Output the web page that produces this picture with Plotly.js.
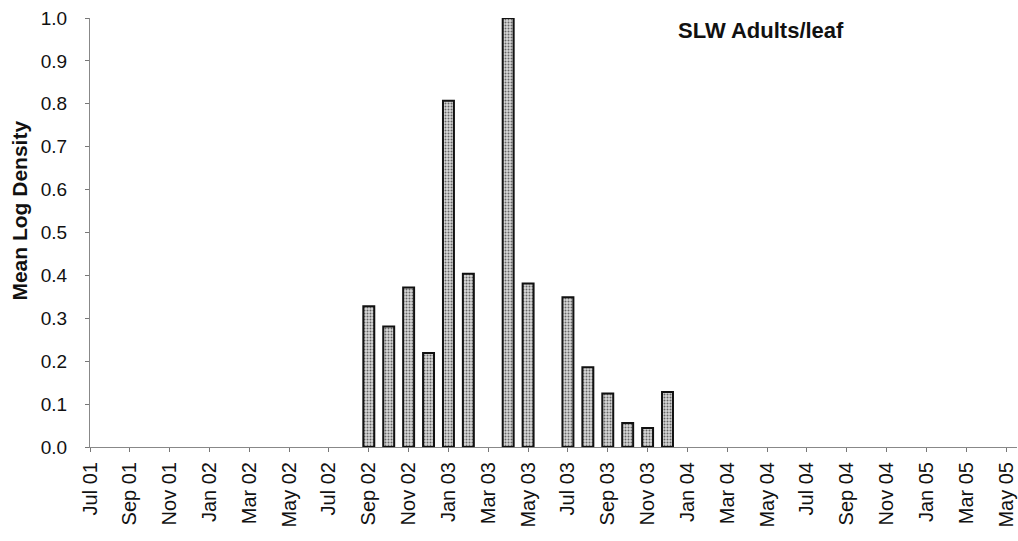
<!DOCTYPE html>
<html>
<head>
<meta charset="utf-8">
<script src="https://cdn.plot.ly/plotly-3.0.1.min.js"></script>
<style>
  html, body { margin: 0; padding: 0; background: #fff; }
  #chart { width: 1018px; height: 541px; }
</style>
</head>
<body>
<div id="chart"></div>
<script>
// Monthly category axis, Jul 2001 – May 2005
const months = [
  "Jul 01", "Aug 01", "Sep 01", "Oct 01", "Nov 01", "Dec 01",
  "Jan 02", "Feb 02", "Mar 02", "Apr 02", "May 02", "Jun 02",
  "Jul 02", "Aug 02", "Sep 02", "Oct 02", "Nov 02", "Dec 02",
  "Jan 03", "Feb 03", "Mar 03", "Apr 03", "May 03", "Jun 03",
  "Jul 03", "Aug 03", "Sep 03", "Oct 03", "Nov 03", "Dec 03",
  "Jan 04", "Feb 04", "Mar 04", "Apr 04", "May 04", "Jun 04",
  "Jul 04", "Aug 04", "Sep 04", "Oct 04", "Nov 04", "Dec 04",
  "Jan 05", "Feb 05", "Mar 05", "Apr 05", "May 05"
];

// Labelled ticks, every second month
const tickLabels = [
  "Jul 01", "Sep 01", "Nov 01", "Jan 02", "Mar 02", "May 02",
  "Jul 02", "Sep 02", "Nov 02", "Jan 03", "Mar 03", "May 03",
  "Jul 03", "Sep 03", "Nov 03", "Jan 04", "Mar 04", "May 04",
  "Jul 04", "Sep 04", "Nov 04", "Jan 05", "Mar 05", "May 05"
];

// Sampled months and mean log density of SLW adults per leaf
const sampleMonths = [
  "Sep 02", "Oct 02", "Nov 02", "Dec 02", "Jan 03", "Feb 03",
  "Apr 03", "May 03", "Jul 03", "Aug 03", "Sep 03", "Oct 03",
  "Nov 03", "Dec 03"
];
const adultsPerLeaf = [
  0.328, 0.281, 0.372, 0.219, 0.807, 0.404,
  1.0, 0.381, 0.349, 0.186, 0.125, 0.056,
  0.044, 0.128
];

const FONT = "Liberation Sans, Arial, Helvetica, sans-serif";

const trace = {
  type: "bar",
  x: sampleMonths,
  y: adultsPerLeaf,
  width: 0.55,
  marker: {
    color: "#c4c4c4",
    line: { color: "#111", width: 2 },
    pattern: { shape: ".", fgcolor: "#666", bgcolor: "#d8d8d8", size: 3, solidity: 0.35 }
  },
  hoverinfo: "x+y"
};

const layout = {
  width: 1018,
  height: 541,
  margin: { l: 90, r: 1, t: 18, b: 94 },
  paper_bgcolor: "#fff",
  plot_bgcolor: "#fff",
  showlegend: false,
  xaxis: {
    type: "category",
    categoryorder: "array",
    categoryarray: months,
    range: [0, 46.55],
    tickmode: "array",
    tickvals: tickLabels,
    ticktext: tickLabels,
    tickangle: -90,
    ticks: "outside",
    ticklen: 4,
    tickcolor: "#777",
    ticklabelstandoff: 2,
    showline: true,
    linecolor: "#888",
    linewidth: 1,
    showgrid: false,
    zeroline: false,
    tickfont: { family: FONT, size: 20, color: "#111" },
    fixedrange: true
  },
  yaxis: {
    range: [0, 1.0],
    tickmode: "array",
    tickvals: [0, 0.1, 0.2, 0.3, 0.4, 0.5, 0.6, 0.7, 0.8, 0.9, 1.0],
    tickformat: ".1f",
    ticks: "outside",
    ticklen: 4,
    tickcolor: "#777",
    ticklabelstandoff: 14,
    showline: true,
    linecolor: "#888",
    linewidth: 1,
    showgrid: false,
    zeroline: false,
    tickfont: { family: FONT, size: 19, color: "#111" },
    fixedrange: true
  },
  annotations: [
    {
      // y-axis title
      xref: "paper", yref: "paper",
      x: -0.076, y: 0.55,
      xanchor: "center", yanchor: "middle",
      textangle: -90,
      showarrow: false,
      text: "<b>Mean Log Density</b>",
      font: { family: FONT, size: 21, color: "#111" }
    },
    {
      xref: "paper", yref: "paper",
      x: 0.724, y: 0.972,
      xanchor: "center", yanchor: "middle",
      showarrow: false,
      text: "<b>SLW Adults/leaf</b>",
      font: { family: FONT, size: 22, color: "#111" }
    }
  ]
};

Plotly.newPlot("chart", [trace], layout, { displayModeBar: false, staticPlot: true });
</script>
</body>
</html>
